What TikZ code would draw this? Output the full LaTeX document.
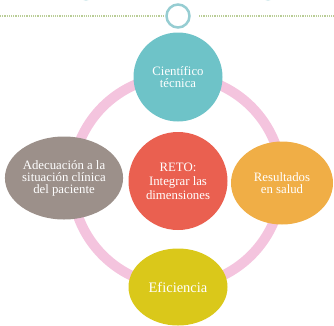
\documentclass[tikz,border=0pt]{standalone}
\usepackage{fontspec}
\setmainfont{Liberation Serif}
\usetikzlibrary{shapes.geometric}
\definecolor{ringpink}{RGB}{244,196,222}
\definecolor{cteal}{RGB}{110,195,200}
\definecolor{cgrey}{RGB}{156,144,138}
\definecolor{cred}{RGB}{234,96,80}
\definecolor{corange}{RGB}{240,174,70}
\definecolor{cyellow}{RGB}{218,200,26}
\definecolor{smallring}{RGB}{150,205,210}
\definecolor{dotline}{RGB}{185,205,150}
\tikzset{
  blob/.style={ellipse, inner sep=0pt, text=white, align=center,
    font=\fontsize{12.8}{12}\selectfont},
  cyclering/.style={draw=ringpink, line width=10pt},
  topring/.style={draw=smallring, line width=2.5pt},
  sepline/.style={draw=dotline, dash pattern=on 1.2pt off 1pt, line width=1.2pt}
}
\begin{document}
\begin{tikzpicture}[x=1pt,y=-1pt]
\useasboundingbox (0,0) rectangle (334,325);
% top decoration
\coordinate (l0) at (0,16);
\coordinate (l1) at (164,16);
\coordinate (r0) at (199,16);
\coordinate (r1) at (334,16);
\draw[sepline] (l0) -- (l1);
\draw[sepline] (r0) -- (r1);
\node[circle, topring, minimum size=23pt, inner sep=0pt] (knob) at (178,16) {};
\node[circle, topring, minimum size=23pt, inner sep=0pt] (knobL) at (86,-12.3) {};
\node[circle, topring, minimum size=23pt, inner sep=0pt] (knobR) at (268,-12.3) {};
% cycle ring
\coordinate (ctr) at (177,181);
\draw[cyclering] (ctr) circle[radius=105];
% nodes
\node[blob, fill=cteal, minimum width=89pt, minimum height=89pt] (cien) at (178,77)
  {Científico\\técnica};
\node[blob, fill=cgrey, minimum width=118pt, minimum height=83pt] (adec) at (64,178)
  {Adecuación a la\\situación clínica\\del paciente};
\node[blob, fill=cred, minimum width=99pt, minimum height=98pt, font=\fontsize{12.8}{14}\selectfont] (reto) at (178,181)
  {RETO:\\Integrar las\\dimensiones};
\node[blob, fill=corange, minimum width=102pt, minimum height=83pt] (resu) at (282,183)
  {Resultados\\en salud};
\node[blob, fill=cyellow, minimum width=99pt, minimum height=77pt, font=\fontsize{14.5}{15}\selectfont] (efic) at (178,287)
  {Eficiencia};
\end{tikzpicture}
\end{document}
